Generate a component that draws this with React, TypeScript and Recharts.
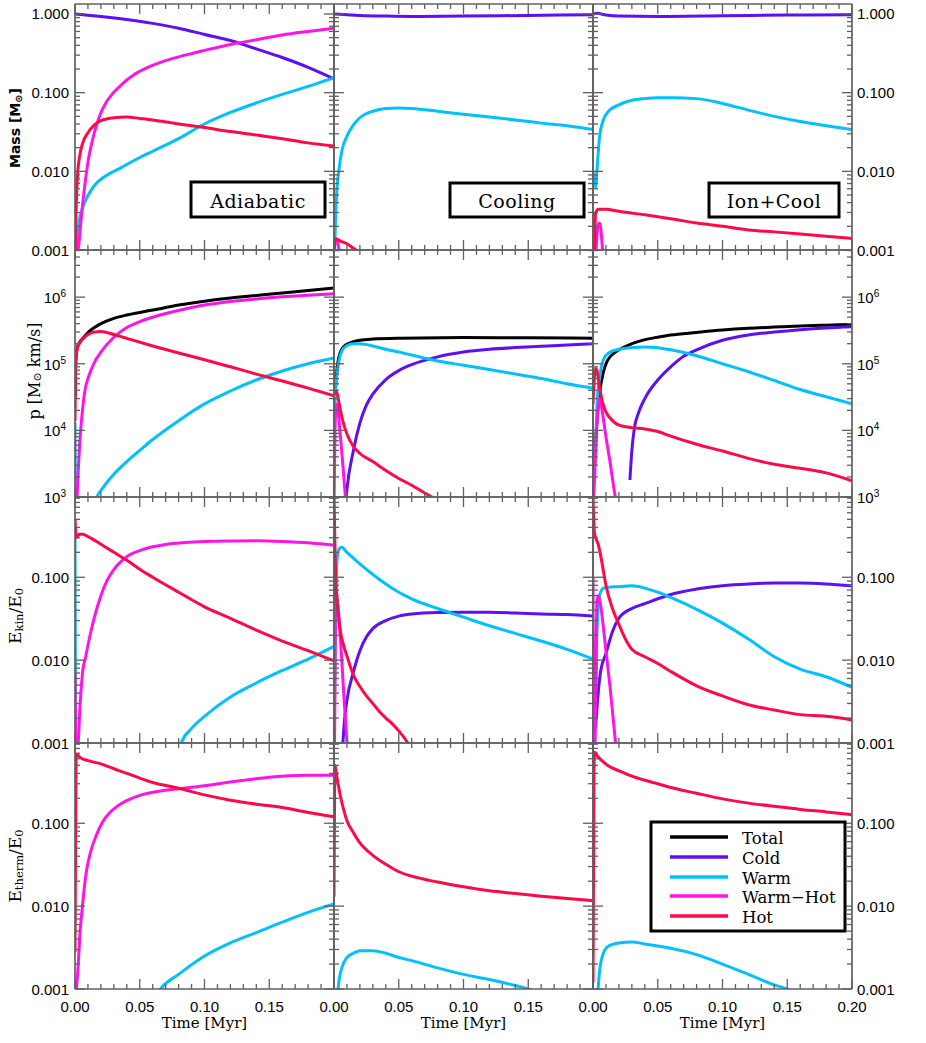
import React from 'react';
import { LineChart, Line, XAxis, YAxis } from 'recharts';

type Pt = [number, number | null];

// ---------- Mass [Msun] ----------
const massAdiCold: Pt[] = [[0, 1.0], [0.02, 0.93], [0.04, 0.85], [0.06, 0.76], [0.08, 0.66], [0.1, 0.55], [0.12, 0.46], [0.14, 0.36], [0.16, 0.28], [0.18, 0.21], [0.2, 0.15]];
const massAdiWarm: Pt[] = [[0.0008, 0.0006], [0.0015, 0.0011], [0.003, 0.0022], [0.005, 0.0031], [0.008, 0.0042], [0.012, 0.0056], [0.017, 0.0072], [0.025, 0.009], [0.035, 0.011], [0.05, 0.015], [0.06, 0.018], [0.08, 0.026], [0.1, 0.04], [0.12, 0.056], [0.14, 0.074], [0.16, 0.095], [0.18, 0.12], [0.2, 0.155]];
const massAdiWarmHot: Pt[] = [[0.001, 0.0007], [0.003, 0.0012], [0.005, 0.0027], [0.0075, 0.0065], [0.01, 0.013], [0.0135, 0.025], [0.0185, 0.048], [0.024, 0.075], [0.029, 0.097], [0.035, 0.122], [0.04, 0.145], [0.045, 0.167], [0.055, 0.205], [0.07, 0.255], [0.085, 0.3], [0.1, 0.345], [0.12, 0.41], [0.14, 0.47], [0.16, 0.54], [0.18, 0.6], [0.2, 0.66]];
const massAdiHot: Pt[] = [[0, 0.0006], [0.0008, 0.003], [0.002, 0.009], [0.004, 0.017], [0.006, 0.023], [0.01, 0.031], [0.015, 0.039], [0.02, 0.044], [0.03, 0.048], [0.04, 0.049], [0.05, 0.047], [0.06, 0.045], [0.08, 0.04], [0.1, 0.036], [0.12, 0.032], [0.14, 0.029], [0.16, 0.026], [0.18, 0.023], [0.2, 0.021]];

const massCoolCold: Pt[] = [[0, 1.0], [0.01, 0.98], [0.02, 0.96], [0.04, 0.94], [0.06, 0.93], [0.1, 0.94], [0.15, 0.96], [0.2, 0.98]];
const massCoolWarm: Pt[] = [[0.0005, 0.0009], [0.001, 0.002], [0.002, 0.005], [0.004, 0.011], [0.006, 0.018], [0.01, 0.028], [0.015, 0.039], [0.02, 0.048], [0.03, 0.058], [0.04, 0.063], [0.05, 0.064], [0.06, 0.063], [0.08, 0.058], [0.1, 0.053], [0.12, 0.049], [0.14, 0.045], [0.16, 0.041], [0.18, 0.038], [0.2, 0.034]];
const massCoolWarmHot: Pt[] = [[0, 0.0013], [0.002, 0.0013], [0.0035, 0.0011], [0.0045, 0.0008]];
const massCoolHot: Pt[] = [[0, 0.0008], [0.001, 0.0014], [0.005, 0.0013], [0.01, 0.0012], [0.015, 0.00105], [0.02, 0.00092], [0.03, 0.0007]];

const massIonCold: Pt[] = [[0, 1.0], [0.003, 1.02], [0.01, 0.97], [0.02, 0.94], [0.05, 0.93], [0.1, 0.95], [0.15, 0.97], [0.2, 0.98]];
const massIonWarm: Pt[] = [[0, 0.01], [0.001, 0.008], [0.002, 0.0063], [0.003, 0.01], [0.005, 0.027], [0.008, 0.045], [0.012, 0.058], [0.02, 0.07], [0.03, 0.08], [0.04, 0.084], [0.05, 0.086], [0.06, 0.086], [0.08, 0.084], [0.1, 0.073], [0.12, 0.06], [0.14, 0.05], [0.16, 0.043], [0.18, 0.038], [0.2, 0.034]];
const massIonWarmHot: Pt[] = [[0.002, 0.0007], [0.003, 0.0015], [0.004, 0.0021], [0.005, 0.0022], [0.006, 0.0019], [0.007, 0.0012], [0.008, 0.0007]];
const massIonHot: Pt[] = [[0, 0.0006], [0.001, 0.0009], [0.002, 0.0029], [0.004, 0.0033], [0.01, 0.0033], [0.02, 0.0031], [0.04, 0.0028], [0.06, 0.0025], [0.08, 0.0022], [0.1, 0.002], [0.12, 0.0018], [0.14, 0.0017], [0.16, 0.0016], [0.18, 0.0015], [0.2, 0.0014]];

// ---------- p [Msun km/s] ----------
const pAdiTotal: Pt[] = [[0, 3e4], [0.0005, 1e5], [0.001, 1.4e5], [0.002, 1.8e5], [0.004, 2.15e5], [0.006, 2.4e5], [0.01, 2.95e5], [0.015, 3.5e5], [0.02, 4.0e5], [0.03, 4.8e5], [0.04, 5.4e5], [0.05, 5.9e5], [0.06, 6.4e5], [0.08, 7.6e5], [0.1, 8.7e5], [0.12, 9.7e5], [0.14, 1.06e6], [0.16, 1.15e6], [0.18, 1.26e6], [0.2, 1.37e6]];
const pAdiWarm: Pt[] = [[0, 1.3e4], [0.0005, 500], [0.008, null], [0.015, 500], [0.017, 1.0e3], [0.02, 1.25e3], [0.03, 2.2e3], [0.04, 3.4e3], [0.05, 5e3], [0.06, 7.3e3], [0.08, 1.4e4], [0.1, 2.5e4], [0.12, 3.9e4], [0.14, 5.7e4], [0.16, 7.8e4], [0.18, 1.0e5], [0.2, 1.22e5]];
const pAdiWarmHot: Pt[] = [[0.001, 500], [0.002, 1.5e3], [0.004, 8e3], [0.006, 2.2e4], [0.008, 4.3e4], [0.01, 6e4], [0.015, 1.05e5], [0.02, 1.5e5], [0.03, 2.5e5], [0.04, 3.5e5], [0.05, 4.3e5], [0.06, 5.0e5], [0.08, 6.3e5], [0.1, 7.6e5], [0.12, 8.6e5], [0.14, 9.4e5], [0.16, 1.01e6], [0.18, 1.07e6], [0.2, 1.12e6]];
const pAdiHot: Pt[] = [[0, 1.4e4], [0.0005, 9e4], [0.001, 1.35e5], [0.002, 1.75e5], [0.004, 2.1e5], [0.006, 2.35e5], [0.01, 2.75e5], [0.015, 3.0e5], [0.02, 3.05e5], [0.03, 2.75e5], [0.04, 2.4e5], [0.06, 1.85e5], [0.08, 1.45e5], [0.1, 1.15e5], [0.12, 9e4], [0.14, 7e4], [0.16, 5.5e4], [0.18, 4.3e4], [0.2, 3.3e4]];

const pCoolTotal: Pt[] = [[0, 2e4], [0.001, 4e4], [0.002, 7e4], [0.003, 1.05e5], [0.005, 1.5e5], [0.008, 1.85e5], [0.012, 2.05e5], [0.02, 2.25e5], [0.03, 2.35e5], [0.05, 2.42e5], [0.1, 2.47e5], [0.15, 2.46e5], [0.2, 2.42e5]];
const pCoolCold: Pt[] = [[0.0085, 600], [0.01, 1.3e3], [0.015, 5e3], [0.02, 1.3e4], [0.025, 2.4e4], [0.03, 3.5e4], [0.04, 5.8e4], [0.05, 7.9e4], [0.06, 9.7e4], [0.08, 1.27e5], [0.1, 1.5e5], [0.12, 1.65e5], [0.14, 1.75e5], [0.16, 1.83e5], [0.18, 1.92e5], [0.2, 2.0e5]];
const pCoolWarm: Pt[] = [[0, 2e4], [0.001, 3.3e4], [0.002, 6e4], [0.004, 1.15e5], [0.006, 1.55e5], [0.01, 1.88e5], [0.015, 2.0e5], [0.02, 2.0e5], [0.03, 1.85e5], [0.04, 1.65e5], [0.05, 1.5e5], [0.06, 1.35e5], [0.08, 1.1e5], [0.1, 9.5e4], [0.12, 8.2e4], [0.14, 7e4], [0.16, 6e4], [0.18, 5e4], [0.2, 4.3e4]];
const pCoolWarmHot: Pt[] = [[0, 800], [0.0008, 1e4], [0.0018, 2.5e4], [0.003, 2e4], [0.005, 8e3], [0.007, 2.8e3], [0.009, 900]];
const pCoolHot: Pt[] = [[0, 3.5e4], [0.002, 3.8e4], [0.004, 2.5e4], [0.006, 1.6e4], [0.008, 1.15e4], [0.01, 8.8e3], [0.015, 5.7e3], [0.02, 4.5e3], [0.03, 3.4e3], [0.04, 2.5e3], [0.05, 1.9e3], [0.06, 1.5e3], [0.07, 1.15e3], [0.08, 900]];

const pIonTotal: Pt[] = [[0.001, 2.5e3], [0.003, 1.3e4], [0.005, 3.5e4], [0.008, 7.5e4], [0.011, 1.1e5], [0.015, 1.38e5], [0.02, 1.62e5], [0.03, 2.0e5], [0.04, 2.3e5], [0.05, 2.5e5], [0.06, 2.7e5], [0.08, 2.95e5], [0.1, 3.2e5], [0.12, 3.4e5], [0.14, 3.55e5], [0.16, 3.7e5], [0.18, 3.8e5], [0.2, 3.9e5]];
const pIonCold: Pt[] = [[0.0285, 1.8e3], [0.03, 5e3], [0.032, 1.1e4], [0.035, 1.8e4], [0.04, 3.0e4], [0.05, 5.7e4], [0.06, 9e4], [0.07, 1.3e5], [0.08, 1.62e5], [0.1, 2.25e5], [0.12, 2.7e5], [0.14, 3.0e5], [0.16, 3.25e5], [0.18, 3.45e5], [0.2, 3.6e5]];
const pIonWarm: Pt[] = [[0.0015, 3e3], [0.003, 2.2e4], [0.005, 6e4], [0.008, 1.15e5], [0.012, 1.45e5], [0.02, 1.65e5], [0.03, 1.75e5], [0.04, 1.78e5], [0.05, 1.74e5], [0.06, 1.62e5], [0.08, 1.32e5], [0.1, 1.0e5], [0.12, 7.6e4], [0.14, 5.6e4], [0.16, 4.1e4], [0.18, 3.2e4], [0.2, 2.5e4]];
const pIonWarmHot: Pt[] = [[0, 900], [0.001, 1.5e3], [0.002, 5e3], [0.004, 2.2e4], [0.005, 3e4], [0.007, 2e4], [0.01, 8e3], [0.013, 3.5e3], [0.016, 1.4e3], [0.018, 800]];
const pIonHot: Pt[] = [[0, 2.5e4], [0.001, 6e4], [0.002, 8.5e4], [0.003, 8e4], [0.005, 4.5e4], [0.007, 2.8e4], [0.01, 1.9e4], [0.015, 1.4e4], [0.02, 1.2e4], [0.03, 1.1e4], [0.04, 1.05e4], [0.05, 9.6e3], [0.06, 8.2e3], [0.08, 6.2e3], [0.1, 4.9e3], [0.12, 3.8e3], [0.14, 3.1e3], [0.16, 2.7e3], [0.18, 2.3e3], [0.2, 1.75e3]];

// ---------- E_kin / E_0 ----------
const ekinAdiWarm: Pt[] = [[0, 0.3], [0.0005, 0.0006], [0.04, null], [0.08, 0.0008], [0.082, 0.001], [0.09, 0.0015], [0.1, 0.0021], [0.12, 0.0036], [0.14, 0.0053], [0.16, 0.0075], [0.18, 0.0103], [0.2, 0.0147]];
const ekinAdiWarmHot: Pt[] = [[0, 0.0068], [0.0008, 0.0007], [0.002, 0.0008], [0.004, 0.003], [0.006, 0.0075], [0.008, 0.0105], [0.011, 0.018], [0.015, 0.033], [0.02, 0.06], [0.025, 0.093], [0.03, 0.124], [0.035, 0.152], [0.04, 0.177], [0.05, 0.21], [0.06, 0.233], [0.07, 0.249], [0.085, 0.262], [0.1, 0.27], [0.12, 0.274], [0.14, 0.275], [0.16, 0.27], [0.18, 0.26], [0.2, 0.243]];
const ekinAdiHot: Pt[] = [[0, 0.51], [0.001, 0.3], [0.003, 0.33], [0.006, 0.33], [0.01, 0.31], [0.02, 0.25], [0.03, 0.2], [0.04, 0.16], [0.05, 0.125], [0.06, 0.1], [0.08, 0.066], [0.1, 0.044], [0.12, 0.032], [0.14, 0.023], [0.16, 0.017], [0.18, 0.013], [0.2, 0.0098]];

const ekinCoolCold: Pt[] = [[0.0065, 0.0008], [0.008, 0.0018], [0.01, 0.0033], [0.015, 0.0072], [0.02, 0.013], [0.025, 0.019], [0.03, 0.024], [0.04, 0.03], [0.05, 0.034], [0.06, 0.036], [0.08, 0.0375], [0.1, 0.0378], [0.12, 0.0377], [0.14, 0.037], [0.16, 0.036], [0.18, 0.0355], [0.2, 0.034]];
const ekinCoolWarm: Pt[] = [[0, 0.0008], [0.0008, 0.01], [0.0015, 0.08], [0.0025, 0.17], [0.004, 0.22], [0.006, 0.23], [0.01, 0.2], [0.015, 0.17], [0.02, 0.145], [0.03, 0.108], [0.04, 0.083], [0.05, 0.066], [0.06, 0.055], [0.08, 0.042], [0.1, 0.033], [0.12, 0.026], [0.14, 0.021], [0.16, 0.017], [0.18, 0.0135], [0.2, 0.0103]];
const ekinCoolWarmHot: Pt[] = [[0, 0.24], [0.0004, 0.0008], [0.0012, 0.05], [0.002, 0.06], [0.004, 0.03], [0.006, 0.01], [0.008, 0.003], [0.0105, 0.0008]];
const ekinCoolHot: Pt[] = [[0, 0.95], [0.001, 0.15], [0.002, 0.06], [0.003, 0.04], [0.005, 0.022], [0.0075, 0.015], [0.01, 0.0112], [0.015, 0.0066], [0.02, 0.0048], [0.025, 0.0037], [0.03, 0.003], [0.035, 0.0024], [0.04, 0.002], [0.045, 0.0017], [0.05, 0.0014], [0.057, 0.001], [0.062, 0.0007]];

const ekinIonCold: Pt[] = [[0.002, 0.0015], [0.004, 0.004], [0.006, 0.0075], [0.01, 0.012], [0.015, 0.022], [0.02, 0.032], [0.03, 0.042], [0.04, 0.048], [0.05, 0.055], [0.06, 0.062], [0.08, 0.072], [0.1, 0.079], [0.12, 0.083], [0.14, 0.085], [0.16, 0.085], [0.18, 0.083], [0.2, 0.079]];
const ekinIonWarm: Pt[] = [[0.0012, 0.0008], [0.002, 0.004], [0.003, 0.02], [0.005, 0.06], [0.008, 0.074], [0.012, 0.076], [0.02, 0.077], [0.03, 0.079], [0.04, 0.074], [0.05, 0.066], [0.06, 0.057], [0.08, 0.041], [0.1, 0.028], [0.12, 0.018], [0.14, 0.011], [0.16, 0.0078], [0.18, 0.0063], [0.2, 0.0047]];
const ekinIonWarmHot: Pt[] = [[0, 0.1], [0.0006, 0.0008], [0.0015, 0.001], [0.003, 0.05], [0.004, 0.06], [0.006, 0.045], [0.008, 0.025], [0.01, 0.013], [0.013, 0.005], [0.016, 0.0017], [0.018, 0.0008]];
const ekinIonHot: Pt[] = [[0, 0.9], [0.001, 0.35], [0.002, 0.3], [0.004, 0.25], [0.006, 0.18], [0.008, 0.12], [0.01, 0.08], [0.015, 0.042], [0.02, 0.027], [0.025, 0.018], [0.03, 0.0135], [0.04, 0.011], [0.05, 0.0091], [0.06, 0.0073], [0.08, 0.0049], [0.1, 0.0037], [0.12, 0.0029], [0.14, 0.0025], [0.16, 0.0022], [0.18, 0.0021], [0.2, 0.0019]];

// ---------- E_therm / E_0 ----------
const ethAdiWarm: Pt[] = [[0.062, 0.0008], [0.066, 0.001], [0.08, 0.0015], [0.1, 0.0025], [0.12, 0.0036], [0.14, 0.0048], [0.16, 0.0064], [0.18, 0.0084], [0.2, 0.0106]];
const ethAdiWarmHot: Pt[] = [[0.0004, 0.0008], [0.002, 0.0015], [0.004, 0.005], [0.006, 0.011], [0.0086, 0.025], [0.012, 0.045], [0.017, 0.075], [0.0214, 0.104], [0.0266, 0.133], [0.033, 0.162], [0.0395, 0.186], [0.05, 0.217], [0.066, 0.245], [0.085, 0.266], [0.1, 0.284], [0.12, 0.315], [0.14, 0.345], [0.15, 0.36], [0.16, 0.37], [0.18, 0.38], [0.2, 0.38]];
const ethAdiHot: Pt[] = [[0, 0.0028], [0.0008, 0.6], [0.0012, 0.68], [0.004, 0.62], [0.01, 0.57], [0.02, 0.52], [0.03, 0.455], [0.04, 0.4], [0.05, 0.35], [0.06, 0.31], [0.08, 0.265], [0.1, 0.22], [0.12, 0.19], [0.14, 0.17], [0.16, 0.155], [0.18, 0.135], [0.2, 0.12]];

const ethCoolWarm: Pt[] = [[0.0025, 0.0008], [0.004, 0.0013], [0.006, 0.0018], [0.01, 0.0024], [0.015, 0.0027], [0.02, 0.0029], [0.03, 0.0029], [0.04, 0.0027], [0.05, 0.0024], [0.06, 0.0022], [0.08, 0.0018], [0.1, 0.0015], [0.12, 0.0013], [0.14, 0.0011], [0.15, 0.001], [0.16, 0.0009]];
const ethCoolHot: Pt[] = [[0, 0.013], [0.0008, 0.5], [0.002, 0.38], [0.003, 0.31], [0.005, 0.21], [0.0075, 0.145], [0.01, 0.107], [0.015, 0.077], [0.02, 0.058], [0.03, 0.041], [0.04, 0.032], [0.05, 0.026], [0.06, 0.023], [0.08, 0.0195], [0.1, 0.0171], [0.12, 0.0153], [0.14, 0.0142], [0.16, 0.0132], [0.18, 0.0124], [0.2, 0.0116]];

const ethIonWarm: Pt[] = [[0.0035, 0.0008], [0.005, 0.0016], [0.008, 0.0027], [0.012, 0.0033], [0.02, 0.0036], [0.03, 0.0037], [0.04, 0.0035], [0.05, 0.0033], [0.06, 0.0031], [0.08, 0.0026], [0.1, 0.002], [0.12, 0.0015], [0.14, 0.00112], [0.15, 0.001], [0.16, 0.0008]];
const ethIonHot: Pt[] = [[0, 0.0012], [0.0008, 0.5], [0.0012, 0.72], [0.004, 0.63], [0.008, 0.55], [0.012, 0.49], [0.02, 0.43], [0.03, 0.37], [0.04, 0.33], [0.05, 0.3], [0.06, 0.27], [0.08, 0.23], [0.1, 0.197], [0.12, 0.175], [0.14, 0.16], [0.16, 0.147], [0.18, 0.137], [0.2, 0.127]];

// ---------- series / axes ----------
const SERIES = [
  { key: 'total', name: 'Total', color: '#000000' },
  { key: 'cold', name: 'Cold', color: '#5e10f2' },
  { key: 'warm', name: 'Warm', color: '#00c0ff' },
  { key: 'warmHot', name: 'Warm\u2212Hot', color: '#ff14e8' },
  { key: 'hot', name: 'Hot', color: '#ff0a46' },
];

const RUNS = ['Adiabatic', 'Cooling', 'Ion+Cool'];

type PanelSeries = { [k: string]: Pt[] };
const PANELS: PanelSeries[][] = [
  [
    { cold: massAdiCold, warm: massAdiWarm, warmHot: massAdiWarmHot, hot: massAdiHot },
    { cold: massCoolCold, warm: massCoolWarm, warmHot: massCoolWarmHot, hot: massCoolHot },
    { cold: massIonCold, warm: massIonWarm, warmHot: massIonWarmHot, hot: massIonHot },
  ],
  [
    { total: pAdiTotal, warm: pAdiWarm, warmHot: pAdiWarmHot, hot: pAdiHot },
    { total: pCoolTotal, cold: pCoolCold, warm: pCoolWarm, warmHot: pCoolWarmHot, hot: pCoolHot },
    { total: pIonTotal, cold: pIonCold, warm: pIonWarm, warmHot: pIonWarmHot, hot: pIonHot },
  ],
  [
    { warm: ekinAdiWarm, warmHot: ekinAdiWarmHot, hot: ekinAdiHot },
    { cold: ekinCoolCold, warm: ekinCoolWarm, warmHot: ekinCoolWarmHot, hot: ekinCoolHot },
    { cold: ekinIonCold, warm: ekinIonWarm, warmHot: ekinIonWarmHot, hot: ekinIonHot },
  ],
  [
    { warm: ethAdiWarm, warmHot: ethAdiWarmHot, hot: ethAdiHot },
    { warm: ethCoolWarm, hot: ethCoolHot },
    { warm: ethIonWarm, hot: ethIonHot },
  ],
];

const X_MAJOR = [0, 0.05, 0.1, 0.15, 0.2];
const X_MINOR = [0.01, 0.02, 0.03, 0.04, 0.06, 0.07, 0.08, 0.09, 0.11, 0.12, 0.13, 0.14, 0.16, 0.17, 0.18, 0.19];
const X_TICKS = [...X_MAJOR, ...X_MINOR].sort((a, b) => a - b);

const ROW_DOMAIN: [number, number][] = [[0.001, 1.34], [1e3, 5.1e6], [0.001, 0.93], [0.001, 0.93]];
const ROW_DECADES = [[0.001, 0.01, 0.1, 1], [1e3, 1e4, 1e5, 1e6], [0.001, 0.01, 0.1], [0.001, 0.01, 0.1]];
const ROW_POWER_LABELS = [false, true, false, false];

// ---------- layout ----------
const W = 926;
const H = 1043;
const COL_L = [75, 334, 593];
const COL_R = [334, 593, 852];
const ROW_T = [4, 250, 497, 743];
const ROW_B = [250, 497, 743, 989];
const AXIS = '#606060';
const TICK_FONT = '"Liberation Sans", Arial, sans-serif';
const SERIF = '"DejaVu Serif", serif';

const logTicks = (row: number) => {
  const [, max] = ROW_DOMAIN[row];
  const out: number[] = [];
  ROW_DECADES[row].forEach((d) => {
    out.push(d);
    for (let k = 2; k <= 9; k++) if (d * k <= max) out.push(d * k);
  });
  return out.sort((a, b) => a - b);
};

const isDecade = (v: number) => Math.abs(Math.log10(v) - Math.round(Math.log10(v))) < 1e-6;
const isXMajor = (v: number) => X_MAJOR.some((m) => Math.abs(m - v) < 1e-9);

const yLabel = (v: number, power: boolean) =>
  power ? (
    <>
      <tspan>10</tspan>
      <tspan dy={-4} fontSize={10}>{Math.round(Math.log10(v))}</tspan>
    </>
  ) : (
    v.toFixed(3)
  );

type Side = 'left' | 'right' | 'top' | 'bottom';

const makeTick = (side: Side, showLabel: (v: number) => boolean, power: boolean) => (props: any) => {
  const { x, y, payload } = props;
  const v: number = payload.value;
  const major = side === 'left' || side === 'right' ? isDecade(v) : isXMajor(v);
  const len = major ? 10 : 5;
  let x2 = x;
  let y2 = y;
  if (side === 'left') x2 = x + len;
  else if (side === 'right') x2 = x - len;
  else if (side === 'bottom') y2 = y - len;
  else y2 = y + len;
  let label: React.ReactNode = null;
  if (major && showLabel(v)) {
    if (side === 'left') {
      label = (
        <text x={x - (power ? 9 : 6)} y={y} textAnchor="end" dominantBaseline="central" fontFamily={TICK_FONT} fontSize={15} fill="#000">
          {yLabel(v, power)}
        </text>
      );
    } else if (side === 'right') {
      label = (
        <text x={x + 5} y={y} textAnchor="start" dominantBaseline="central" fontFamily={TICK_FONT} fontSize={15} fill="#000">
          {yLabel(v, power)}
        </text>
      );
    } else if (side === 'bottom') {
      label = (
        <text x={x} y={y + 17} textAnchor="middle" dominantBaseline="central" fontFamily={TICK_FONT} fontSize={15} fill="#000">
          {v.toFixed(2)}
        </text>
      );
    }
  }
  return (
    <g>
      <line x1={x} y1={y} x2={x2} y2={y2} stroke={AXIS} strokeWidth={1.3} />
      {label}
    </g>
  );
};

const toData = (pts: Pt[]) => pts.map(([t, v]) => ({ t, v }));

const axisLine = { stroke: AXIS, strokeWidth: 1.7 };
const never = () => false;

function Panel({ row, col }: { row: number; col: number }) {
  const series = PANELS[row][col];
  const yTicks = logTicks(row);
  const power = ROW_POWER_LABELS[row];
  const margin = {
    left: COL_L[col] - 1,
    right: W - COL_R[col] - 1,
    top: ROW_T[row] - 1,
    bottom: H - ROW_B[row] - 1,
  };
  const xLabels = row === 3 ? (v: number) => col === 2 || v < 0.19 : never;
  const common = { allowDataOverflow: true, interval: 0 as const, tickSize: 0, tickMargin: 0, tickLine: false, axisLine };
  return (
    <div style={{ position: 'absolute', left: 0, top: 0 }}>
      <LineChart width={W} height={H} margin={margin}>
        <XAxis xAxisId="b" orientation="bottom" type="number" dataKey="t" domain={[0, 0.2]} ticks={X_TICKS} height={1} tick={makeTick('bottom', xLabels, false)} {...common} />
        <XAxis xAxisId="t" orientation="top" type="number" dataKey="t" domain={[0, 0.2]} ticks={X_TICKS} height={1} tick={makeTick('top', never, false)} {...common} />
        <YAxis yAxisId="l" orientation="left" type="number" scale="log" domain={ROW_DOMAIN[row]} ticks={yTicks} width={1} tick={makeTick('left', col === 0 ? () => true : never, power)} {...common} />
        <YAxis yAxisId="r" orientation="right" type="number" scale="log" domain={ROW_DOMAIN[row]} ticks={yTicks} width={1} tick={makeTick('right', col === 2 ? () => true : never, power)} {...common} />
        {SERIES.filter((s) => series[s.key]).map((s) => (
          <Line
            key={s.key}
            xAxisId="b"
            yAxisId="l"
            data={toData(series[s.key])}
            dataKey="v"
            type="monotone"
            stroke={s.color}
            strokeWidth={3}
            dot={false}
            activeDot={false}
            connectNulls={false}
            isAnimationActive={false}
          />
        ))}
      </LineChart>
    </div>
  );
}

function Overlay() {
  const box = (x: number, y: number, w: number, h: number, text: string) => (
    <g key={text}>
      <rect x={x} y={y} width={w} height={h} fill="#fff" stroke="#000" strokeWidth={3} />
      <text x={x + w / 2} y={y + h / 2 + 1} textAnchor="middle" dominantBaseline="central" fontFamily={SERIF} fontSize={19} letterSpacing={0.5} fill="#000">
        {text}
      </text>
    </g>
  );
  const rot = (x: number, y: number) => `rotate(-90 ${x} ${y})`;
  const legendRows = [837, 857, 877, 896, 916];
  return (
    <svg width={W} height={H} style={{ position: 'absolute', left: 0, top: 0 }}>
      {box(191, 182, 134, 35, RUNS[0])}
      {box(450, 183, 134, 34, RUNS[1])}
      {box(709, 183, 130, 34, RUNS[2])}

      <text x={15} y={128} transform={rot(15, 128)} textAnchor="middle" dominantBaseline="central" fontFamily='"DejaVu Sans", sans-serif' fontWeight="bold" fontSize={14} fill="#000">
        Mass [M<tspan dy={3} fontSize={10}>{'\u2299'}</tspan><tspan dy={-3}>]</tspan>
      </text>
      <text x={34} y={371} transform={rot(34, 371)} textAnchor="middle" dominantBaseline="central" fontFamily={SERIF} fontSize={16} fill="#000">
        p [M<tspan dy={3} fontSize={11}>{'\u2299'}</tspan><tspan dy={-3}> km/s]</tspan>
      </text>
      <text x={15} y={616} transform={rot(15, 616)} textAnchor="middle" dominantBaseline="central" fontFamily={SERIF} fontSize={17} fill="#000">
        E<tspan dy={4} fontSize={11.5}>kin</tspan><tspan dy={-4}>/E</tspan><tspan dy={4} fontSize={11.5}>0</tspan>
      </text>
      <text x={15} y={866} transform={rot(15, 866)} textAnchor="middle" dominantBaseline="central" fontFamily={SERIF} fontSize={17} fill="#000">
        E<tspan dy={4} fontSize={11.5}>therm</tspan><tspan dy={-4}>/E</tspan><tspan dy={4} fontSize={11.5}>0</tspan>
      </text>

      {COL_L.map((l, i) => (
        <text key={i} x={(l + COL_R[i]) / 2} y={1028} textAnchor="middle" fontFamily={SERIF} fontSize={15} fill="#000">
          Time [Myr]
        </text>
      ))}

      <rect x={651} y={822} width={194} height={109} fill="#fff" stroke="#000" strokeWidth={3} />
      {SERIES.map((s, i) => (
        <g key={s.key}>
          <line x1={670} x2={728} y1={legendRows[i]} y2={legendRows[i]} stroke={s.color} strokeWidth={3.5} />
          <text x={742} y={legendRows[i] + 1} dominantBaseline="central" fontFamily={SERIF} fontSize={16.5} fill="#000">
            {s.name}
          </text>
        </g>
      ))}
    </svg>
  );
}

export default function App() {
  const cells: { row: number; col: number }[] = [];
  for (let r = 0; r < 4; r++) for (let c = 0; c < 3; c++) cells.push({ row: r, col: c });
  return (
    <div style={{ position: 'absolute', left: 0, top: 0, width: W, height: H, background: '#fff', overflow: 'hidden' }}>
      {cells.map(({ row, col }) => (
        <Panel key={`${row}-${col}`} row={row} col={col} />
      ))}
      <Overlay />
    </div>
  );
}
